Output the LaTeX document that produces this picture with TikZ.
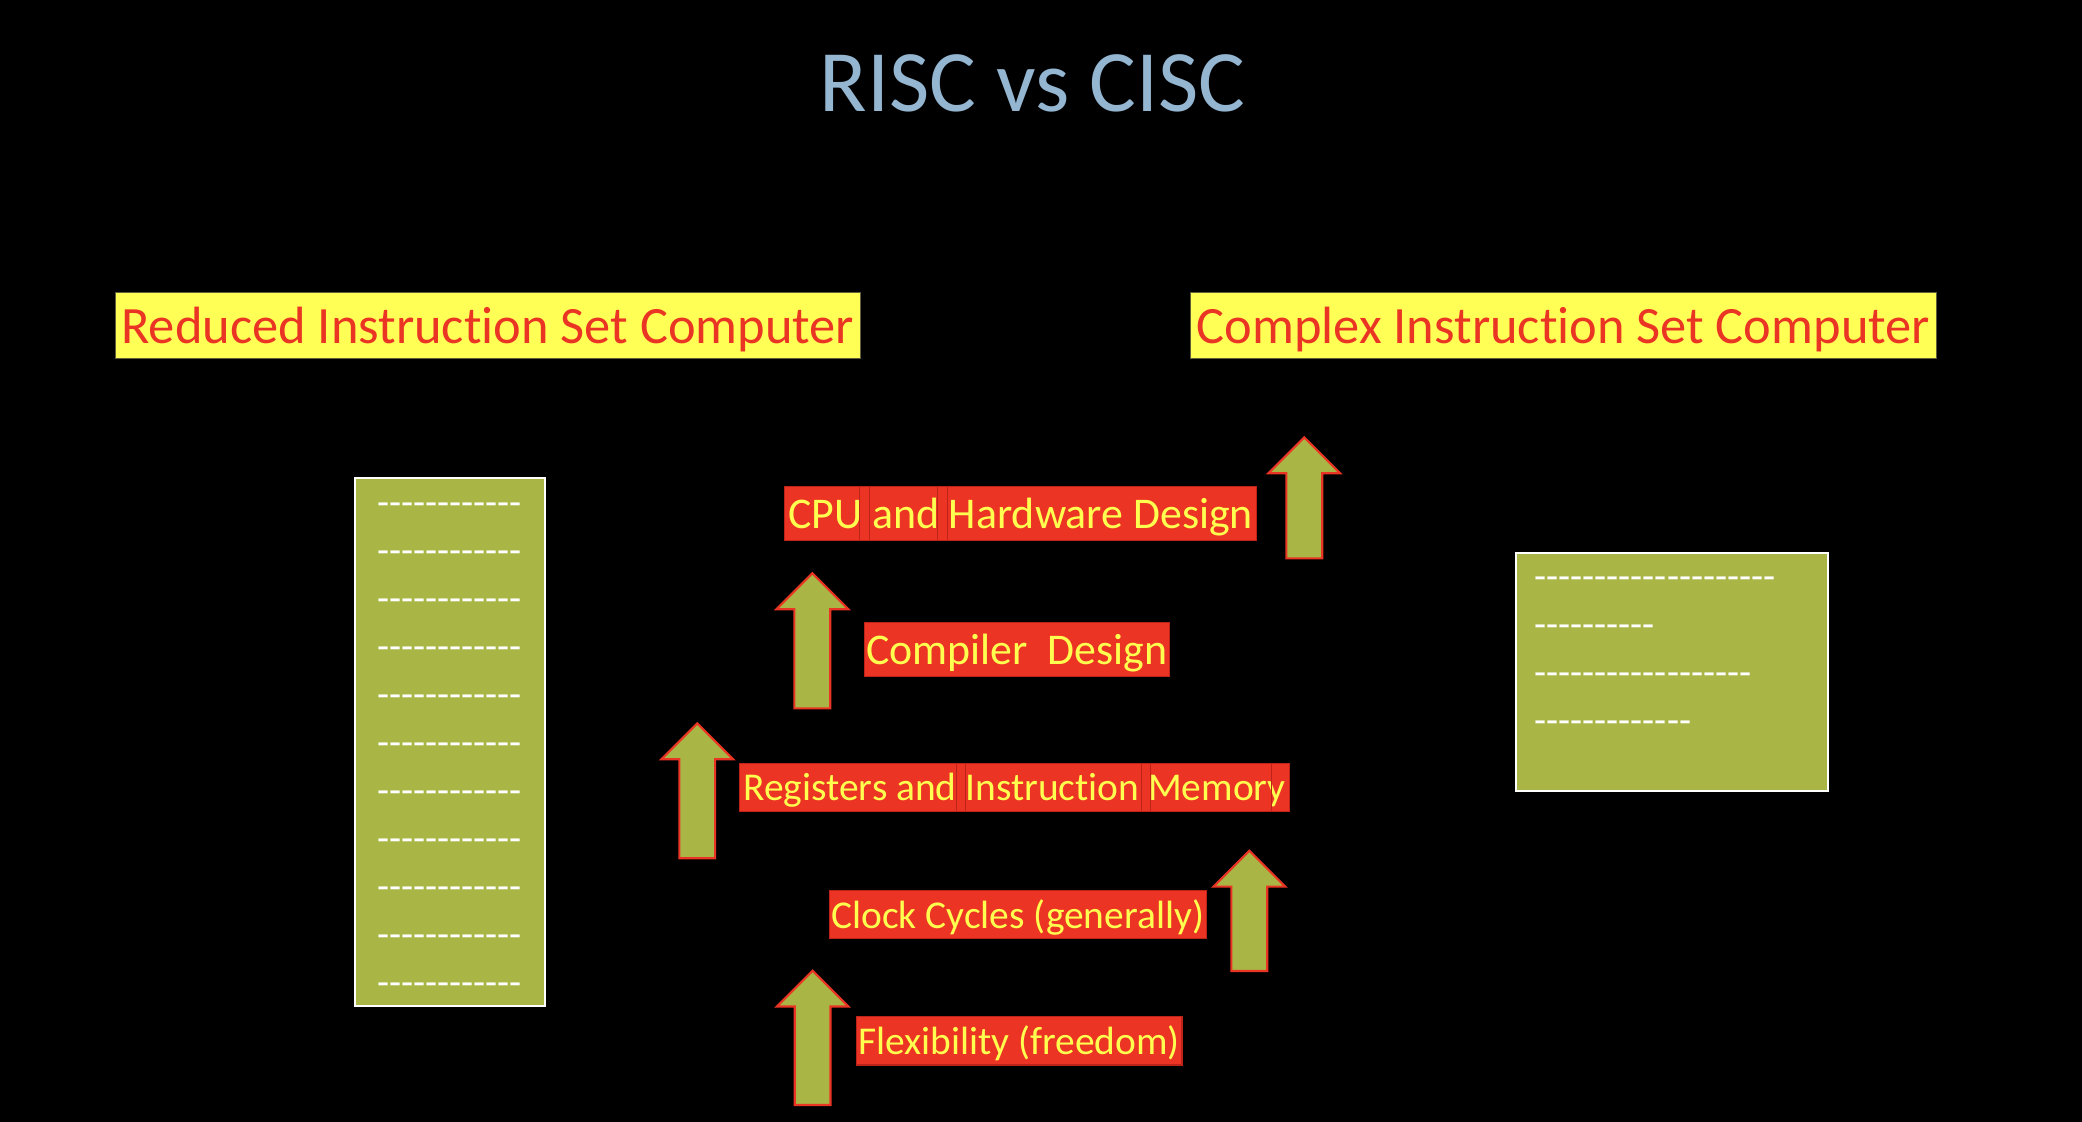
\documentclass[tikz,border=0pt]{standalone}
\usepackage{fontspec}
\setmainfont{Carlito}[Ligatures={TeX,NoCommon}]
\newfontfamily\dashfont{Carlito}[Ligatures={TeXOff,NoCommon}]

\definecolor{titleblue}{RGB}{148,182,209}
\definecolor{headyellow}{RGB}{255,255,85}
\definecolor{headrim}{RGB}{95,95,60}
\definecolor{riscred}{RGB}{234,53,36}
\definecolor{labelred}{RGB}{236,52,36}
\definecolor{labelrim}{RGB}{190,35,25}
\definecolor{labelyellow}{RGB}{255,255,80}
\definecolor{olive}{RGB}{169,181,69}

\tikzset{
  heading/.style={fill=headyellow, draw=headrim, line width=0.8pt, text=riscred,
    font=\fontsize{39.5}{48}\selectfont, inner sep=0pt, text height=37.6pt, text depth=10.6pt},
  biglabel/.style={fill=labelred, draw=labelrim, line width=0.8pt, text=labelyellow,
    font=\fontsize{33}{40}\selectfont, inner sep=0pt, text height=31.4pt, text depth=8.9pt},
  smalllabel/.style={biglabel, font=\fontsize{29.7}{36}\selectfont, text height=28.3pt, text depth=8pt},
  seam/.style={draw=labelrim, line width=0.8pt},
  listbox/.style={fill=olive, draw=white, line width=1.5pt, inner sep=0pt},
  dashes/.style={text=white, font=\dashfont\fontsize{29.7}{36}\selectfont, inner sep=0pt, anchor=base west},
  blockarrow/.style={fill=olive, draw=riscred, line width=1.6pt, line join=miter},
}

% Blockpfeil nach oben: x, Spitze, Fuss
\newcommand{\blockup}[3]{%
  \draw[blockarrow] (#1,#2) -- (#1+27,#2+27) -- (#1+13.5,#2+27) -- (#1+13.5,#3)
    -- (#1-13.5,#3) -- (#1-13.5,#2+27) -- (#1-27,#2+27) -- cycle;}

\begin{document}
\begin{tikzpicture}[x=1pt, y=-1pt]
    % Hintergrund:
    \fill[black] (0,0) rectangle (1568,845);
    \useasboundingbox (0,0) rectangle (1568,845);

    % Titel:
    \node[text=titleblue, font=\fontsize{66}{80}\selectfont, anchor=base, inner sep=0pt]
      (title) at (777.7,84.1) {RISC vs CISC};

    % Ueberschriften:
    \node[heading, minimum width=561.1pt, minimum height=49.7pt] (risc) at (367.35,245.25)
      {Reduced Instruction Set Computer};
    \node[heading, minimum width=561.2pt, minimum height=49.7pt] (cisc) at (1177.5,245.25)
      {Complex Instruction Set Computer};

    % linke Box (RISC):
    \node[listbox, minimum width=143pt, minimum height=397.5pt] (riscbox) at (338.9,558.65) {};
    \foreach \i in {0,...,10}
      \node[dashes] (rl\i) at (283.9,388.3+36.15*\i) {------------};

    % rechte Box (CISC):
    \node[listbox, minimum width=234.8pt, minimum height=178.8pt] (ciscbox) at (1259.1,506.1) {};
    \node[dashes] (cl1) at (1155.3,444.3) {--------------------};
    \node[dashes] (cl2) at (1155.3,480.4) {----------};
    \node[dashes] (cl3) at (1155.3,516.6) {------------------};
    \node[dashes] (cl4) at (1155.3,552.5) {-------------};

    % Beschriftungen:
    \node[biglabel, minimum width=355.4pt, minimum height=40.2pt] (cpu) at (768.5,386.6)
      {CPU and Hardware Design};
    \foreach \s in {647.3,654.8,706.1,713.6}
      \draw[seam] (\s,0 |- cpu.north) -- (\s,0 |- cpu.south);
    \node[biglabel, minimum width=229.7pt, minimum height=40.6pt] (compiler) at (765.65,489.3)
      {Compiler~~Design};
    \node[smalllabel, minimum width=414.2pt, minimum height=35.8pt] (regs) at (764.1,592.9)
      {Registers and Instruction Memory};
    \foreach \s in {720.4,726.9,859.8,866.4,957.5}
      \draw[seam] (\s,0 |- regs.north) -- (\s,0 |- regs.south);
    \node[smalllabel, minimum width=284.1pt, minimum height=35.9pt] (clock) at (766.45,688.75)
      {Clock Cycles (generally)};
    \node[smalllabel, minimum width=245.5pt, minimum height=35.4pt] (flex) at (767.45,783.9)
      {Flexibility (freedom)};

    % Pfeile:
    \blockup{982.3}{329.4}{420.5}
    \blockup{611.8}{431.8}{533.5}
    \blockup{525.1}{544.8}{646.4}
    \blockup{940.9}{640.7}{731.3}
    \blockup{612}{731}{832.2}
\end{tikzpicture}
\end{document}
